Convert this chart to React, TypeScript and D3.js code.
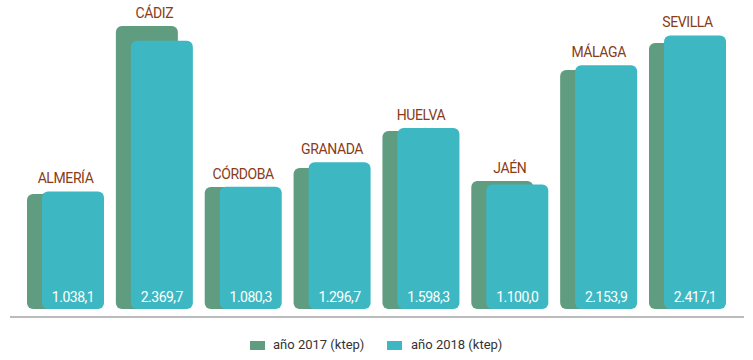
import React from 'react';
import * as d3 from 'd3';

const provinces = ['ALMERÍA', 'CÁDIZ', 'CÓRDOBA', 'GRANADA', 'HUELVA', 'JAÉN', 'MÁLAGA', 'SEVILLA'];
const values2017 = [1016, 2500, 1078, 1246, 1572, 1131, 2111, 2350];
const values2018 = [1038.1, 2369.7, 1080.3, 1296.7, 1598.3, 1100.0, 2153.9, 2417.1];
const labels2018 = ['1.038,1', '2.369,7', '1.080,3', '1.296,7', '1.598,3', '1.100,0', '2.153,9', '2.417,1'];
const seriesNames = ['año 2017 (ktep)', 'año 2018 (ktep)'];

const W = 753;
const H = 360;
const base = 309;
const barW = 62;
const shift = 15;
const green = '#5f9c80';
const teal = '#3db8c3';
const brown = '#8a3b17';
const font = 'Roboto, sans-serif';

function App() {
    const x = d3.scaleBand<string>()
        .domain(provinces)
        .range([27, 27 + 8 * 88.86])
        .padding(0);
    const y = d3.scaleLinear()
        .domain([0, 2700])
        .range([base, base - 2700 * 0.1132]);

    // rounded rect helper, all four corners
    const rr = (x0: number, y0: number, w: number, h: number, r: number) => {
        const p = d3.path();
        p.moveTo(x0 + r, y0);
        p.lineTo(x0 + w - r, y0);
        p.arcTo(x0 + w, y0, x0 + w, y0 + r, r);
        p.lineTo(x0 + w, y0 + h - r);
        p.arcTo(x0 + w, y0 + h, x0 + w - r, y0 + h, r);
        p.lineTo(x0 + r, y0 + h);
        p.arcTo(x0, y0 + h, x0, y0 + h - r, r);
        p.lineTo(x0, y0 + r);
        p.arcTo(x0, y0, x0 + r, y0, r);
        p.closePath();
        return p.toString();
    };

    return (
        <svg width={W} height={H} style={{position: 'absolute', left: 0, top: 0}}>
            {provinces.map((p, i) => {
                const gx = x(p) as number;
                const y17 = y(values2017[i]);
                const y18 = y(values2018[i]);
                const top = Math.min(y17, y18);
                return (
                    <g key={p}>
                        <path d={rr(gx, y17, barW, base - y17, 6)} fill={green}/>
                        <path d={rr(gx + shift, y18, barW, base - y18, 6)} fill={teal}/>
                        <text x={gx + shift + barW / 2} y={302} textAnchor="middle"
                              fill="#fff" fontFamily={font} fontSize={14} letterSpacing={-0.5}>
                            {labels2018[i]}
                        </text>
                        <text x={gx + (barW + shift) / 2} y={top - 8} textAnchor="middle"
                              fill={brown} fontFamily={font} fontSize={14} letterSpacing={-0.4}>
                            {p}
                        </text>
                    </g>
                );
            })}
            <line x1={10} x2={744} y1={317} y2={317} stroke="#bbbbbb" strokeWidth={2}/>
            <g fontFamily={font} fontSize={13} fill="#333">
                <rect x={250} y={341} width={15} height={9} fill={green}/>
                <text x={273} y={349}>{seriesNames[0]}</text>
                <rect x={387} y={341} width={15} height={9} fill={teal}/>
                <text x={411} y={349}>{seriesNames[1]}</text>
            </g>
        </svg>
    );
}

export default App;
